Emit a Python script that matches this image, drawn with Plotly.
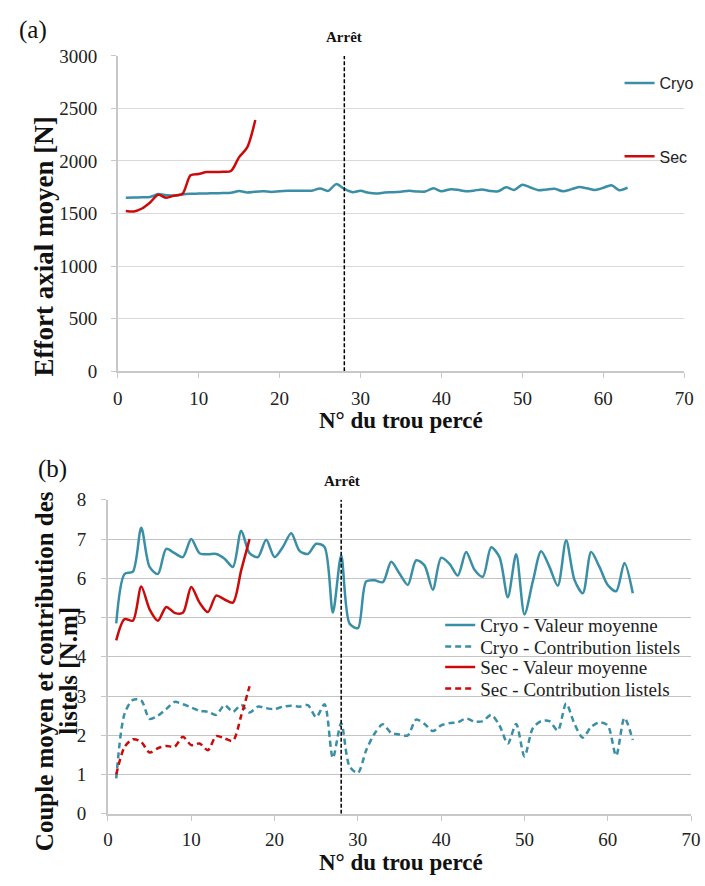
import plotly.graph_objects as go

# Hole numbers
holes_cryo = list(range(1, 64))
holes_sec = list(range(1, 18))
hole_stop = 28

# (a) Mean axial force [N]
effort_cryo = [1650, 1652, 1655, 1658, 1685, 1675, 1670, 1682, 1688, 1690,
               1692, 1693, 1695, 1697, 1715, 1700, 1708, 1712, 1706, 1712,
               1716, 1718, 1718, 1718, 1738, 1716, 1780, 1734, 1703, 1716,
               1697, 1690, 1700, 1703, 1708, 1716, 1710, 1710, 1740, 1712,
               1730, 1726, 1712, 1718, 1730, 1715, 1712, 1750, 1725, 1775,
               1748, 1722, 1730, 1735, 1712, 1730, 1752, 1740, 1725, 1745,
               1770, 1722, 1746]
effort_sec = [1525, 1520, 1548, 1605, 1678, 1650, 1672, 1688, 1864, 1877,
              1895, 1895, 1898, 1905, 2037, 2130, 2390]

# (b) Mean torque and margin (listels) contribution [N.m]
couple_cryo = [4.85, 6.11, 6.17, 7.29, 6.29, 6.11, 6.75, 6.64, 6.54, 7.00,
               6.64, 6.61, 6.62, 6.50, 6.29, 7.21, 6.64, 6.54, 6.98, 6.54,
               6.80, 7.15, 6.70, 6.62, 6.88, 6.80, 5.13, 6.58, 4.85, 4.73,
               5.92, 5.95, 5.90, 6.42, 6.12, 5.83, 6.46, 6.33, 5.71, 6.52,
               6.37, 6.07, 6.67, 6.22, 6.04, 6.79, 6.54, 5.52, 6.61, 5.08,
               5.92, 6.69, 6.29, 5.81, 6.97, 5.96, 5.62, 6.67, 6.29, 5.83,
               5.67, 6.39, 5.62]
listels_cryo = [0.90, 2.55, 2.90, 2.89, 2.42, 2.50, 2.67, 2.85, 2.79, 2.71,
                2.62, 2.60, 2.52, 2.77, 2.60, 2.77, 2.58, 2.73, 2.69, 2.67,
                2.73, 2.75, 2.73, 2.77, 2.46, 2.79, 1.42, 2.31, 1.21, 1.04,
                1.62, 2.04, 2.28, 2.06, 2.02, 2.00, 2.40, 2.29, 2.11, 2.25,
                2.31, 2.33, 2.43, 2.35, 2.36, 2.52, 2.25, 1.79, 2.29, 1.46,
                2.18, 2.36, 2.36, 2.12, 2.81, 2.29, 1.94, 2.21, 2.33, 2.25,
                1.48, 2.44, 1.88]
couple_sec = [4.42, 4.96, 4.92, 5.79, 5.21, 4.92, 5.27, 5.12, 5.12, 5.78,
              5.38, 5.14, 5.56, 5.46, 5.38, 6.21, 7.00]
listels_sec = [1.00, 1.70, 1.90, 1.83, 1.56, 1.67, 1.73, 1.71, 1.96, 1.75,
               1.79, 1.62, 1.98, 1.92, 1.86, 2.50, 3.25]

x_ticks = [0, 10, 20, 30, 40, 50, 60, 70]
y_ticks_a = [0, 500, 1000, 1500, 2000, 2500, 3000]
y_ticks_b = [0, 1, 2, 3, 4, 5, 6, 7, 8]

W, H = 705, 886
BLUE = "#3a8ea6"
RED = "#cc0a0a"
SERIF = "Liberation Serif"
SANS = "Liberation Sans"


def fx(px):
    return px / W


def fy(py):
    return 1 - py / H


def line(x, y, color, dash, name, xa, ya, legend, show=True):
    return go.Scatter(
        x=x, y=y, mode="lines", name=name, xaxis=xa, yaxis=ya,
        line=dict(color=color, width=2.5, dash=dash, shape="spline", smoothing=0.8),
        legend=legend, showlegend=show, hoverinfo="skip",
    )


fig = go.Figure()

# (a)
fig.add_trace(line(holes_cryo, effort_cryo, BLUE, "solid", "Cryo", "x", "y", "legend"))
fig.add_trace(line(holes_sec, effort_sec, RED, "solid", "Sec", "x", "y", "legend2"))
fig.add_trace(go.Scatter(x=[hole_stop, hole_stop], y=[0, 3000], mode="lines",
                         line=dict(color="black", width=1.5, dash="4px,2px"),
                         xaxis="x", yaxis="y", showlegend=False, hoverinfo="skip"))

# (b)
fig.add_trace(line(holes_cryo, couple_cryo, BLUE, "solid", "Cryo - Valeur moyenne", "x2", "y2", "legend3"))
fig.add_trace(line(holes_cryo, listels_cryo, BLUE, "6px,4px", "Cryo - Contribution listels", "x2", "y2", "legend4"))
fig.add_trace(line(holes_sec, couple_sec, RED, "solid", "Sec - Valeur moyenne", "x2", "y2", "legend5"))
fig.add_trace(line(holes_sec, listels_sec, RED, "6px,4px", "Sec - Contribution listels", "x2", "y2", "legend6"))
fig.add_trace(go.Scatter(x=[hole_stop, hole_stop], y=[0, 8], mode="lines",
                         line=dict(color="black", width=1.5, dash="4px,2px"),
                         xaxis="x2", yaxis="y2", showlegend=False, hoverinfo="skip"))

axis_common = dict(
    showline=True, linecolor="#c8c8c8", linewidth=1.5,
    ticks="outside", ticklen=5, tickcolor="#c8c8c8", tickwidth=1,
    tickfont=dict(family=SERIF, size=19, color="#222"),
    zeroline=False, fixedrange=True,
)


def small_legend(px, py, family, size):
    return dict(x=fx(px), y=fy(py), xanchor="left", yanchor="middle",
                bgcolor="rgba(0,0,0,0)", borderwidth=0,
                font=dict(family=family, size=size, color="#222"))


fig.update_layout(
    width=W, height=H,
    margin=dict(l=0, r=0, t=0, b=0),
    paper_bgcolor="white", plot_bgcolor="white",
    xaxis=dict(domain=[fx(115), fx(693)], range=[0, 70], tickvals=x_ticks,
               showgrid=False, anchor="y", ticklabelstandoff=4, **axis_common),
    yaxis=dict(domain=[fy(370), fy(47)], range=[0, 3000], tickvals=y_ticks_a,
               showgrid=True, gridcolor="#d9d9d9", gridwidth=1, anchor="x",
               ticklabelstandoff=10, **axis_common),
    xaxis2=dict(domain=[fx(105), fx(700)], range=[0, 70], tickvals=x_ticks,
                showgrid=False, anchor="y2", ticklabelstandoff=3, **axis_common),
    yaxis2=dict(domain=[fy(823.3), fy(501.7)], range=[0, 8], tickvals=y_ticks_b,
                showgrid=True, gridcolor="#c4c4c4", gridwidth=1, anchor="x2",
                ticklabelstandoff=11, **axis_common),
    legend=small_legend(627, 75, SANS, 16),
    legend2=small_legend(627, 150, SANS, 16),
    legend3=small_legend(444, 630, SERIF, 19),
    legend4=small_legend(444, 652, SERIF, 19),
    legend5=small_legend(444, 673, SERIF, 19),
    legend6=small_legend(444, 695, SERIF, 19),
)

annotations = [
    dict(text="(a)", x=fx(12), y=fy(20), xanchor="left", yanchor="middle",
         font=dict(family=SERIF, size=25, color="#111")),
    dict(text="(b)", x=fx(32), y=fy(470), xanchor="left", yanchor="middle",
         font=dict(family=SERIF, size=25, color="#111")),
    dict(text="<b>Arrêt</b>", x=fx(346), y=fy(28), xanchor="center", yanchor="middle",
         font=dict(family=SERIF, size=15, color="#111")),
    dict(text="<b>Arrêt</b>", x=fx(344), y=fy(482), xanchor="center", yanchor="middle",
         font=dict(family=SERIF, size=15, color="#111")),
    dict(text="<b>N° du trou percé</b>", x=fx(404), y=fy(420), xanchor="center", yanchor="middle",
         font=dict(family=SERIF, size=23, color="#111")),
    dict(text="<b>N° du trou percé</b>", x=fx(404), y=fy(873), xanchor="center", yanchor="middle",
         font=dict(family=SERIF, size=23, color="#111")),
    dict(text="<b>Effort axial moyen [N]</b>", x=fx(40), y=fy(242), xanchor="center", yanchor="middle",
         textangle=-90, font=dict(family=SERIF, size=27, color="#111")),
    dict(text="<b>Couple moyen et contribution des</b>", x=fx(41), y=fy(677),
         xanchor="center", yanchor="middle", textangle=-90,
         font=dict(family=SERIF, size=25, color="#111")),
    dict(text="<b>listels [N.m]</b>", x=fx(65), y=fy(677),
         xanchor="center", yanchor="middle", textangle=-90,
         font=dict(family=SERIF, size=25, color="#111")),
]
for a in annotations:
    a.update(xref="paper", yref="paper", showarrow=False)
fig.update_layout(annotations=annotations)

fig.write_html("out.html")
